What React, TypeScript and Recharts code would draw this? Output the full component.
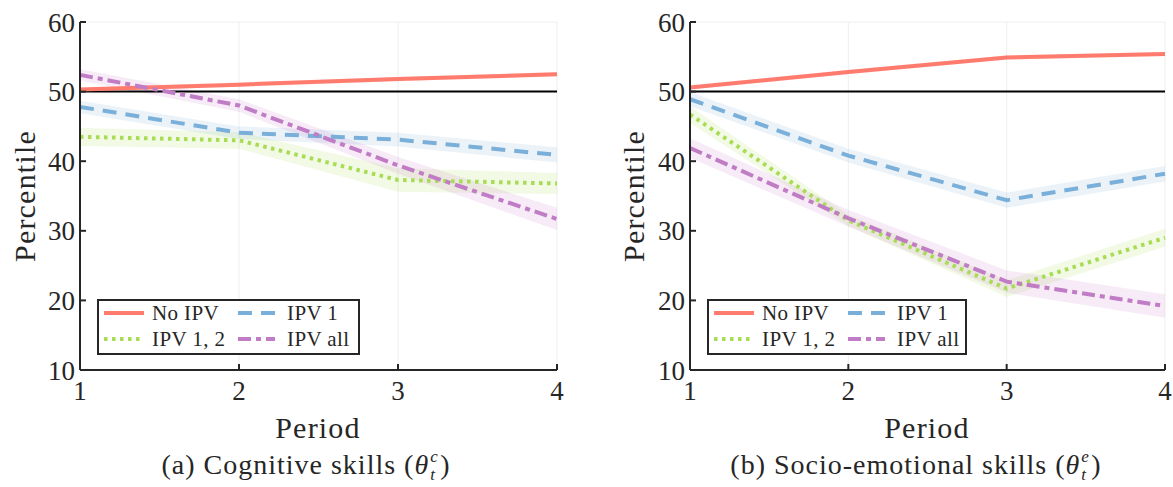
import React from "react";
import {
    ComposedChart,
    Line,
    Area,
    XAxis,
    YAxis,
    CartesianGrid,
    ReferenceLine
} from "recharts";

// periods on the x axis
const periods = [1, 2, 3, 4];
const xTicks = [1, 2, 3, 4];
const yTicks = [10, 20, 30, 40, 50, 60];

// (a) cognitive skills
const cogNoIpv = [50.3, 51.0, 51.8, 52.5];
const cogIpv1 = [47.8, 44.1, 43.1, 40.9];
const cogIpv12 = [43.5, 43.0, 37.3, 36.8];
const cogIpvAll = [52.4, 48.0, 39.4, 31.7];
// half widths of the shaded bands
const cogNoIpvBand = [0.3, 0.3, 0.3, 0.3];
const cogIpv1Band = [0.9, 0.9, 1.0, 1.1];
const cogIpv12Band = [1.3, 1.2, 1.7, 1.5];
const cogIpvAllBand = [0.8, 0.9, 1.2, 1.6];

// (b) socio-emotional skills
const emoNoIpv = [50.6, 52.8, 54.9, 55.4];
const emoIpv1 = [48.9, 40.8, 34.4, 38.2];
const emoIpv12 = [46.7, 31.5, 21.7, 29.0];
const emoIpvAll = [41.9, 31.8, 22.7, 19.2];
const emoNoIpvBand = [0.3, 0.3, 0.3, 0.3];
const emoIpv1Band = [1.0, 1.0, 1.1, 1.1];
const emoIpv12Band = [1.2, 0.8, 1.2, 1.3];
const emoIpvAllBand = [1.4, 1.2, 1.6, 1.7];

const colors = {
    noIpv: "#ff7b6e",
    ipv1: "#7aafd9",
    ipv12: "#a8dc55",
    ipvAll: "#c07cc4"
};

const dashes = {
    noIpv: undefined,
    ipv1: "14 9",
    ipv12: "3.5 4.5",
    ipvAll: "13 5 5 5"
};

const FONT = "'Liberation Serif', 'DejaVu Serif', serif";
const AXIS = "#262626";

type Key = "noIpv" | "ipv1" | "ipv12" | "ipvAll";

type Row = {
    period: number;
    noIpv: number;
    ipv1: number;
    ipv12: number;
    ipvAll: number;
    noIpvBand: [number, number];
    ipv1Band: [number, number];
    ipv12Band: [number, number];
    ipvAllBand: [number, number];
};

function buildRows(
    a: number[],
    b: number[],
    c: number[],
    d: number[],
    ab: number[],
    bb: number[],
    cb: number[],
    db: number[]
): Row[] {
    return periods.map((p, i) => ({
        period: p,
        noIpv: a[i],
        ipv1: b[i],
        ipv12: c[i],
        ipvAll: d[i],
        noIpvBand: [a[i] - ab[i], a[i] + ab[i]],
        ipv1Band: [b[i] - bb[i], b[i] + bb[i]],
        ipv12Band: [c[i] - cb[i], c[i] + cb[i]],
        ipvAllBand: [d[i] - db[i], d[i] + db[i]]
    }));
}

const cogData = buildRows(
    cogNoIpv,
    cogIpv1,
    cogIpv12,
    cogIpvAll,
    cogNoIpvBand,
    cogIpv1Band,
    cogIpv12Band,
    cogIpvAllBand
);
const emoData = buildRows(
    emoNoIpv,
    emoIpv1,
    emoIpv12,
    emoIpvAll,
    emoNoIpvBand,
    emoIpv1Band,
    emoIpv12Band,
    emoIpvAllBand
);

const seriesKeys: Key[] = ["noIpv", "ipv1", "ipv12", "ipvAll"];

const legendNames = {
    noIpv: "No IPV",
    ipv1: "IPV 1",
    ipv12: "IPV 1, 2",
    ipvAll: "IPV all"
};

// legend item offsets inside the box: [sample x, sample length, text x, row y]
const legendSlots: Record<Key, [number, number, number, number]> = {
    noIpv: [4, 40, 53, 12],
    ipv1: [138, 37, 188, 12],
    ipv12: [4, 40, 53, 38],
    ipvAll: [138, 37, 188, 38]
};

function LegendBox({ left, top, width }: { left: number; top: number; width: number }) {
    return (
        <div
            style={{
                position: "absolute",
                left,
                top,
                width,
                height: 52,
                border: `2px solid ${AXIS}`,
                background: "#fff",
                fontFamily: FONT,
                fontSize: 21,
                letterSpacing: 0.4,
                color: "#262626"
            }}
        >
            {seriesKeys.map((k) => {
                const [sx, len, tx, ry] = legendSlots[k];
                return (
                    <React.Fragment key={k}>
                        <svg
                            width={len + 2}
                            height={8}
                            style={{ position: "absolute", left: sx, top: ry - 4 }}
                        >
                            <line
                                x1={1}
                                x2={len + 1}
                                y1={4}
                                y2={4}
                                stroke={colors[k]}
                                strokeWidth={4}
                                strokeDasharray={dashes[k]}
                            />
                        </svg>
                        <span
                            style={{
                                position: "absolute",
                                left: tx,
                                top: ry - 13,
                                lineHeight: "26px",
                                whiteSpace: "nowrap"
                            }}
                        >
                            {legendNames[k]}
                        </span>
                    </React.Fragment>
                );
            })}
        </div>
    );
}

function Panel({
    data,
    marginLeft,
    marginRight,
    width
}: {
    data: Row[];
    marginLeft: number;
    marginRight: number;
    width: number;
}) {
    const tickStyle = { fontFamily: FONT, fontSize: 27, fill: "#262626" };
    return (
        <ComposedChart
            width={width}
            height={487}
            data={data}
            margin={{ top: 22, right: marginRight, left: marginLeft, bottom: 77 }}
        >
            <CartesianGrid stroke="#eeeeee" strokeWidth={1} />
            <XAxis
                xAxisId="bottom"
                dataKey="period"
                type="number"
                domain={[1, 4]}
                ticks={xTicks}
                height={40}
                stroke={AXIS}
                strokeWidth={2}
                tickSize={-6}
                tickMargin={17}
                tick={tickStyle}
            />
            <XAxis
                xAxisId="top"
                orientation="top"
                dataKey="period"
                type="number"
                domain={[1, 4]}
                ticks={xTicks}
                height={0}
                stroke={AXIS}
                strokeWidth={2}
                tickSize={-6}
                tick={false}
            />
            <YAxis
                yAxisId="left"
                type="number"
                domain={[10, 60]}
                ticks={yTicks}
                width={50}
                stroke={AXIS}
                strokeWidth={2}
                tickSize={-6}
                tickMargin={11}
                tick={tickStyle}
            />
            <YAxis
                yAxisId="right"
                orientation="right"
                type="number"
                domain={[10, 60]}
                ticks={yTicks}
                width={0}
                stroke={AXIS}
                strokeWidth={2}
                tickSize={-6}
                tick={false}
            />
            {seriesKeys.map((k) => (
                <Area
                    key={k + "Band"}
                    xAxisId="bottom"
                    yAxisId="left"
                    type="linear"
                    dataKey={k + "Band"}
                    stroke="none"
                    fill={colors[k]}
                    fillOpacity={0.15}
                    isAnimationActive={false}
                    activeDot={false}
                />
            ))}
            <ReferenceLine
                xAxisId="bottom"
                yAxisId="left"
                y={50}
                stroke="#000"
                strokeWidth={2}
            />
            {seriesKeys.map((k) => (
                <Line
                    key={k}
                    xAxisId="bottom"
                    yAxisId="left"
                    type="linear"
                    dataKey={k}
                    stroke={colors[k]}
                    strokeWidth={4}
                    strokeDasharray={dashes[k]}
                    dot={false}
                    activeDot={false}
                    isAnimationActive={false}
                />
            ))}
        </ComposedChart>
    );
}

function Caption({
    center,
    prefix,
    sup
}: {
    center: number;
    prefix: string;
    sup: string;
}) {
    return (
        <div
            style={{
                position: "absolute",
                left: center - 300,
                width: 600,
                top: 447,
                height: 36,
                lineHeight: "36px",
                textAlign: "center",
                fontFamily: FONT,
                fontSize: 28,
                letterSpacing: 1,
                color: "#262626",
                whiteSpace: "nowrap"
            }}
        >
            <span>{prefix} (</span>
            <i style={{ marginRight: 1 }}>θ</i>
            <span
                style={{
                    display: "inline-block",
                    position: "relative",
                    width: 10,
                    height: 30,
                    verticalAlign: "middle",
                    fontSize: 17,
                    fontStyle: "italic",
                    letterSpacing: 0
                }}
            >
                <span style={{ position: "absolute", left: 0, top: -5, lineHeight: "17px" }}>
                    {sup}
                </span>
                <span style={{ position: "absolute", left: 0, top: 13, lineHeight: "17px" }}>
                    t
                </span>
            </span>
            <span>)</span>
        </div>
    );
}

function AxisTitle({
    text,
    x,
    y,
    rotate
}: {
    text: string;
    x: number;
    y: number;
    rotate?: boolean;
}) {
    return (
        <div
            style={{
                position: "absolute",
                left: x - 100,
                top: y - 18,
                width: 200,
                height: 36,
                lineHeight: "36px",
                textAlign: "center",
                fontFamily: FONT,
                fontSize: 30,
                letterSpacing: 1.2,
                color: "#262626",
                transform: rotate ? "rotate(-90deg)" : undefined
            }}
        >
            {text}
        </div>
    );
}

export default function App() {
    return (
        <div
            style={{
                position: "absolute",
                left: 0,
                top: 0,
                width: 1173,
                height: 487,
                background: "#fff",
                overflow: "hidden"
            }}
        >
            <div style={{ position: "absolute", left: 0, top: 0 }}>
                <Panel data={cogData} marginLeft={30} marginRight={29} width={586} />
            </div>
            <div style={{ position: "absolute", left: 586, top: 0 }}>
                <Panel data={emoData} marginLeft={54} marginRight={8} width={587} />
            </div>
            <LegendBox left={97} top={299} width={259} />
            <LegendBox left={707} top={299} width={256} />
            <AxisTitle text="Percentile" x={25} y={196} rotate />
            <AxisTitle text="Percentile" x={634} y={196} rotate />
            <AxisTitle text="Period" x={318} y={428} />
            <AxisTitle text="Period" x={927} y={428} />
            <Caption center={306} prefix="(a) Cognitive skills" sup="c" />
            <Caption center={916} prefix="(b) Socio-emotional skills" sup="e" />
        </div>
    );
}
